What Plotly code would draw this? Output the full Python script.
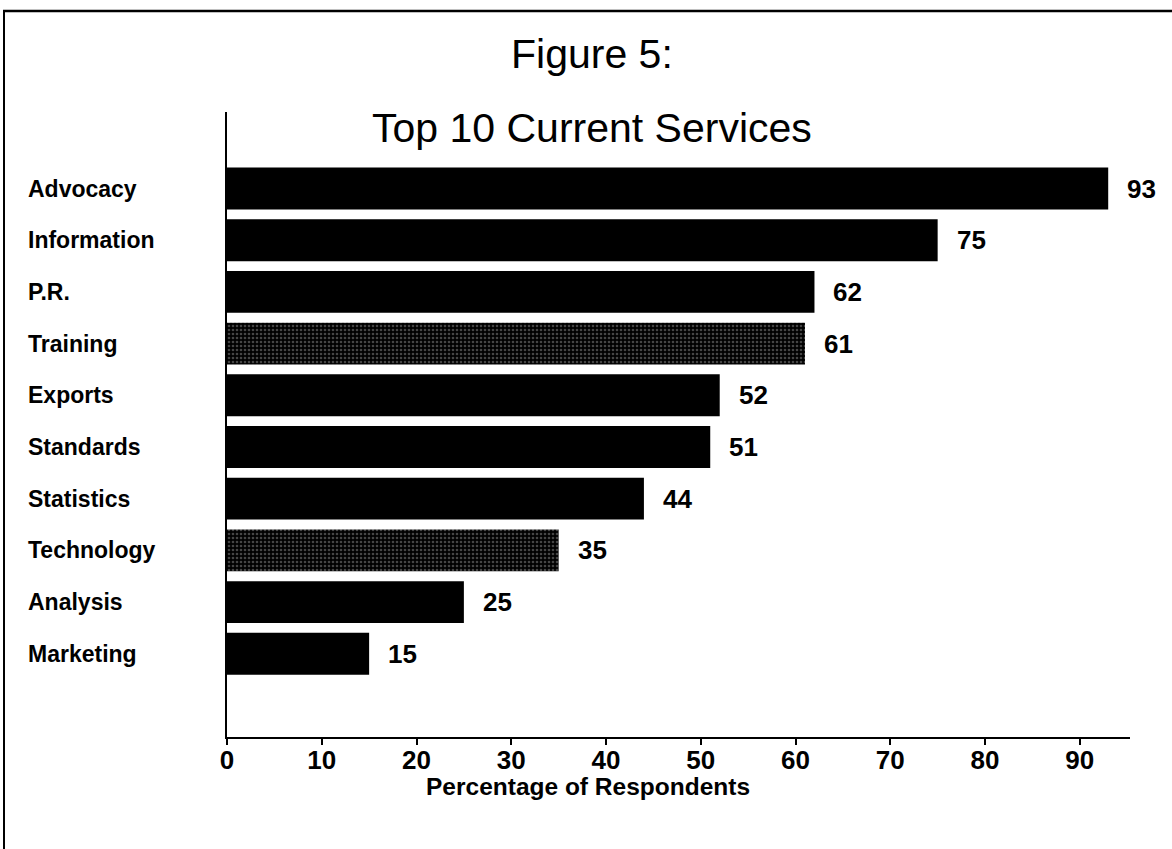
import plotly.graph_objects as go

categories = ["Advocacy", "Information", "P.R.", "Training", "Exports",
              "Standards", "Statistics", "Technology", "Analysis", "Marketing"]
values = [93, 75, 62, 61, 52, 51, 44, 35, 25, 15]
shaded = [False, False, False, True, False, False, False, True, False, False]
tick_vals = [0, 10, 20, 30, 40, 50, 60, 70, 80, 90]

FONT = "Liberation Sans, Arial, Helvetica, sans-serif"

cats_r = categories[::-1]
vals_r = values[::-1]
shaded_r = shaded[::-1]
ypos = list(range(len(cats_r)))

L, R, T, B = 227, 42, 112, 112
W, H = 1172, 849
PW, PH = W - L - R, H - T - B

def px_x(x):
    return (x - L) / PW

def px_y(y):
    return (H - B - y) / PH

fig = go.Figure()
fig.add_trace(go.Bar(
    y=ypos, x=vals_r, orientation="h", width=0.81,
    marker=dict(
        color="#000000",
        line=dict(width=0),
        pattern=dict(
            shape=["." if s else "" for s in shaded_r],
            fgcolor="#8a8a8a", bgcolor="#000000", size=4, solidity=0.35,
            fillmode="overlay"),
    ),
    hoverinfo="skip", showlegend=False,
))

annotations = []
for y, c, v in zip(ypos, cats_r, vals_r):
    annotations.append(dict(
        x=px_x(26), xref="paper", y=y, yref="y", text=c, showarrow=False,
        xanchor="left", yanchor="middle",
        font=dict(family=FONT, size=23, color="black", weight="bold")))
    annotations.append(dict(
        x=v, xref="x", y=y, yref="y", text=str(v), showarrow=False,
        xanchor="left", yanchor="middle", xshift=17,
        font=dict(family=FONT, size=26, color="black", weight="bold")))

for text, yc in [("Figure 5:", 54), ("Top 10 Current Services", 128)]:
    annotations.append(dict(
        x=px_x(592), xref="paper", y=px_y(yc), yref="paper",
        text=text, showarrow=False, xanchor="center", yanchor="middle",
        font=dict(family=FONT, size=41, color="black")))

# x-axis title (centred under the chart title, as in the original)
annotations.append(dict(
    x=px_x(588), xref="paper", y=px_y(786), yref="paper",
    text="Percentage of Respondents", showarrow=False,
    xanchor="center", yanchor="middle",
    font=dict(family=FONT, size=24.5, color="black", weight="bold")))

shapes = [
    dict(type="line", xref="paper", yref="paper",
         x0=px_x(3), x1=px_x(1172), y0=px_y(11), y1=px_y(11),
         line=dict(color="black", width=2.5)),
    dict(type="line", xref="paper", yref="paper",
         x0=px_x(4), x1=px_x(4), y0=px_y(849), y1=px_y(11),
         line=dict(color="black", width=2)),
]

fig.update_layout(
    width=W, height=H,
    margin=dict(l=L, r=R, t=T, b=B),
    paper_bgcolor="white", plot_bgcolor="white",
    font=dict(family=FONT, color="black"),
    xaxis=dict(
        range=[0, 95.3], tickvals=tick_vals, ticks="outside", ticklen=6,
        tickwidth=1.5, tickcolor="black", ticklabelstandoff=-7,
        showline=True, linecolor="black", linewidth=2,
        showgrid=False, zeroline=False,
        tickfont=dict(family=FONT, size=26, color="black", weight="bold"),
    ),
    yaxis=dict(
        range=[-1.61, 10.48], showticklabels=False, ticks="",
        showline=True, linecolor="black", linewidth=1.5,
        showgrid=False, zeroline=False,
    ),
    annotations=annotations,
    shapes=shapes,
)

fig.write_html("out.html")
